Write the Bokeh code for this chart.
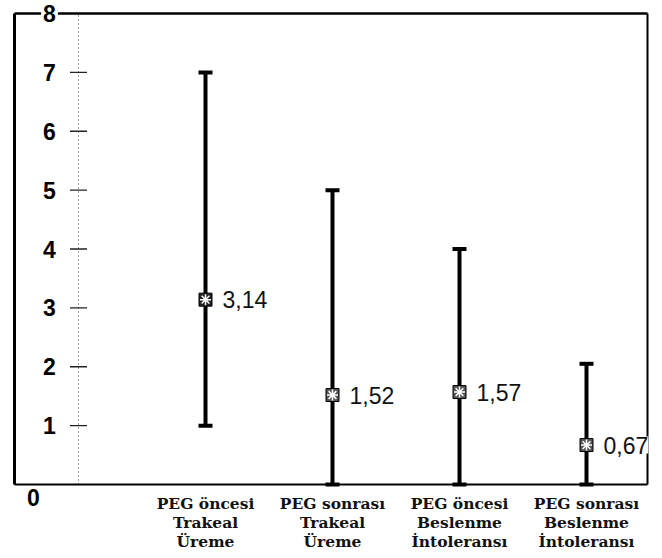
from bokeh.plotting import figure
from bokeh.models import Range1d
from bokeh.core.properties import value
from bokeh.embed import file_html
from bokeh.resources import INLINE
import numpy as np

# ---- data ----
categories = [1, 2, 3, 4]
cat_line1 = ["PEG öncesi", "PEG sonrası", "PEG öncesi", "PEG sonrası"]
cat_line2 = ["Trakeal", "Trakeal", "Beslenme", "Beslenme"]
cat_line3 = ["Üreme", "Üreme", "İntoleransı", "İntoleransı"]
means = [3.14, 1.52, 1.57, 0.67]
mean_labels = ["3,14", "1,52", "1,57", "0,67"]
lows = [1, 0, 0, 0]
highs = [7, 5, 4, 2.05]
yticks = [1, 2, 3, 4, 5, 6, 7, 8]
ytick_labels = ["1", "2", "3", "4", "5", "6", "7", "8"]

# ---- layout (pixel calibration of the picture) ----
W, H = 662, 558
X0_PX, DX = 78, 127.0        # px of x=0, px per category
Y8_PX, DY = 13, 58.875       # px of y=8, px per unit

def xd(px):
    return (px - X0_PX) / DX

def yd(py):
    return 8 - (py - Y8_PX) / DY

p = figure(width=W, height=H, output_backend="svg", toolbar_location=None,
           x_range=Range1d(xd(0), xd(W)),
           y_range=Range1d(yd(H), yd(0)),
           min_border=0, x_axis_type=None, y_axis_type=None)
p.outline_line_color = None
p.grid.visible = False
p.background_fill_color = "white"
p.border_fill_color = "white"

x_left, x_right = xd(14), xd(647)

# dotted inner axis at x = 0
p.segment(x0=[0], y0=[0], x1=[0], y1=[8], line_color="#444", line_width=1,
          line_dash="1 3")
# small ticks on the dotted axis
p.scatter(x=[0] * 7, y=yticks[:-1], marker="dash", size=17,
          line_color="#222", line_width=1.3)

# frame
p.segment(x0=[x_left, x_left, x_right, x_left], y0=[0, 8, 0, 0],
          x1=[x_left, x_right, x_right, x_right], y1=[8, 8, 8, 0],
          line_color="black", line_width=[3, 2.5, 2, 2.2])

# error bars
lo_arr = np.array(lows, dtype=float)
hi_arr = np.array(highs, dtype=float)
p.segment(x0=categories, y0=lo_arr, x1=categories, y1=hi_arr,
          line_color="black", line_width=4)
p.scatter(x=categories + categories, y=list(lo_arr) + list(hi_arr),
          marker="dash", size=14, line_color="black", line_width=4)

# mean markers
p.scatter(x=categories, y=means, marker="square", size=13,
          fill_color=["#222", "#555", "#555", "#555"], line_color="black",
          line_width=1)
p.scatter(x=categories, y=means, marker="asterisk", size=11,
          line_color="white", line_width=1.5)

# mean labels
p.text(x=categories, y=means, text=mean_labels, x_offset=17,
       text_align="left", text_baseline="middle",
       text_font=value("Liberation Sans"), text_font_size="23px",
       text_color="#111", background_fill_color="white")

# y tick labels (inside the frame)
p.text(x=[xd(49)] * len(yticks), y=yticks, text=ytick_labels,
       text_align="center", text_baseline="middle",
       text_font=value("Liberation Sans"), text_font_style="bold",
       text_font_size="23px", text_color="black",
       background_fill_color="white", padding=2)
p.text(x=[xd(33)], y=[yd(497)], text=["0"],
       text_align="center", text_baseline="middle",
       text_font=value("Liberation Sans"), text_font_style="bold",
       text_font_size="23px", text_color="black")

# category labels below the frame
row_y = yd(503)
for i, lines in enumerate([cat_line1, cat_line2, cat_line3]):
    p.text(x=categories, y=[row_y] * 4, text=lines, y_offset=19 * i,
           text_align="center", text_baseline="middle",
           text_font=value("DejaVu Serif"), text_font_style="bold",
           text_font_size="15.5px", text_color="#111")

open("out.html", "w").write(file_html(p, INLINE))
